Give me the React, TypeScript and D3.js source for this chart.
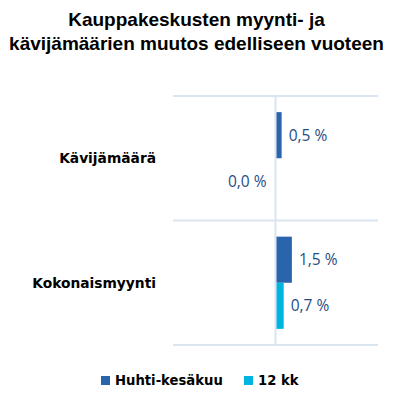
import React from 'react';
import * as d3 from 'd3';

const categories = ['Kävijämäärä', 'Kokonaismyynti'];
const seriesNames = ['Huhti-kesäkuu', '12 kk'];
const huhtiKesakuu = [0.5, 1.5];
const kaksitoistaKk = [0.0, 0.7];
const seriesColors = ['#2a64ad', '#00b4e0'];
const titleLines = ['Kauppakeskusten myynti- ja', 'kävijämäärien muutos edelliseen vuoteen'];

const W = 393;
const H = 404;

const fmt = (v: number) => v.toFixed(1).replace('.', ',') + ' %';

export default function App() {
  const x = d3.scaleLinear().domain([-10, 10]).range([173, 378]);
  const y = d3.scaleBand<string>().domain(categories).range([96, 345]);
  const inner = d3
    .scaleBand<string>()
    .domain(seriesNames)
    .range([0, y.bandwidth()])
    .paddingInner(0)
    .paddingOuter(0.35);

  const values = [huhtiKesakuu, kaksitoistaKk];
  const gridYs = [...categories.map((c) => y(c) as number), y.range()[1]];
  const x0 = x(0);

  return (
    <svg
      width={W}
      height={H}
      style={{ position: 'absolute', left: 0, top: 0, background: '#fff' }}
    >
      {titleLines.map((t, i) => (
        <text
          key={i}
          x={W / 2}
          y={26 + i * 24}
          textAnchor="middle"
          fontFamily="Liberation Sans, Arial, sans-serif"
          fontWeight="bold"
          fontSize={19}
          fill="#000"
        >
          {t}
        </text>
      ))}

      {gridYs.map((gy, i) => (
        <line key={i} x1={173} x2={378} y1={gy} y2={gy} stroke="#dbe5f1" strokeWidth={2} />
      ))}
      <line x1={x0} x2={x0} y1={96} y2={345} stroke="#dbe5f1" strokeWidth={2} />

      {categories.map((c) => (
        <text
          key={c}
          x={156}
          y={(y(c) as number) + y.bandwidth() / 2}
          dy="0.35em"
          textAnchor="end"
          fontFamily="DejaVu Sans, Verdana, sans-serif"
          fontWeight="bold"
          fontSize={13.8}
          fill="#000"
        >
          {c}
        </text>
      ))}

      {seriesNames.map((s, si) =>
        categories.map((c, ci) => {
          const v = values[si][ci];
          const by = (y(c) as number) + (inner(s) as number);
          const bx = Math.min(x(v), x0);
          const bw = Math.abs(x(v) - x0);
          const labelRight = v > 0;
          return (
            <g key={s + c}>
              {bw > 0 && (
                <rect x={bx + 1} y={by} width={bw} height={inner.bandwidth()} fill={seriesColors[si]} />
              )}
              <text
                x={labelRight ? x(v) + 8 : x0 - 9}
                y={by + inner.bandwidth() / 2}
                dy="0.35em"
                textAnchor={labelRight ? 'start' : 'end'}
                fontFamily="Open Sans, DejaVu Sans, sans-serif"
                fontSize={15.5}
                fill="#1f4e85"
              >
                {fmt(v)}
              </text>
            </g>
          );
        })
      )}

      <g>
        <rect x={101} y={376} width={9} height={9} fill={seriesColors[0]} />
        <text
          x={115}
          y={380.5}
          dy="0.35em"
          fontFamily="DejaVu Sans, Verdana, sans-serif"
          fontWeight="bold"
          fontSize={13.2}
          fill="#000"
        >
          {seriesNames[0]}
        </text>
        <rect x={244} y={376} width={9} height={9} fill={seriesColors[1]} />
        <text
          x={258}
          y={380.5}
          dy="0.35em"
          fontFamily="DejaVu Sans, Verdana, sans-serif"
          fontWeight="bold"
          fontSize={13.2}
          fill="#000"
        >
          {seriesNames[1]}
        </text>
      </g>
    </svg>
  );
}
